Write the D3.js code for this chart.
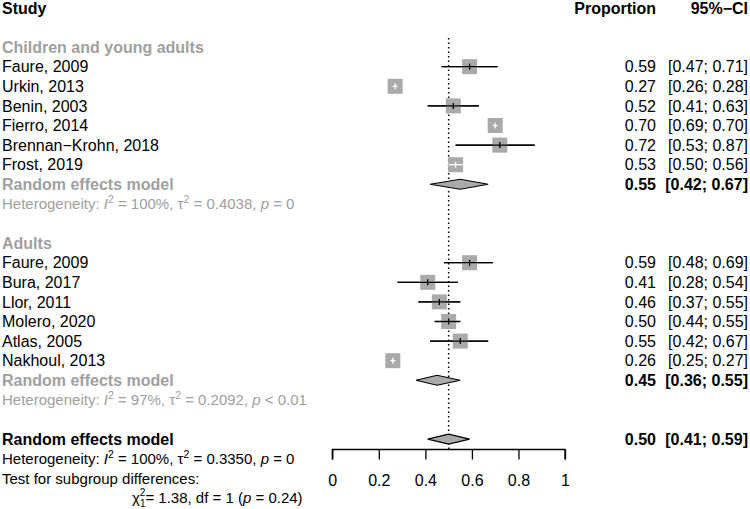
<!DOCTYPE html>
<html><head><meta charset="utf-8">
<script src="https://cdn.jsdelivr.net/npm/d3@7"></script>
<style>
body{margin:0;background:#fff;}
svg{display:block;font-family:"Liberation Sans",Arial,sans-serif;}
</style></head>
<body>
<svg id="chart" width="750" height="509"></svg>
<script>
// ---- data ----
const groupNames = ["Children and young adults", "Adults"];
const childStudies = ["Faure, 2009","Urkin, 2013","Benin, 2003","Fierro, 2014","Brennan\u2212Krohn, 2018","Frost, 2019"];
const childEst   = [0.59, 0.27, 0.52, 0.70, 0.72, 0.53];
const childLower = [0.47, 0.26, 0.41, 0.69, 0.53, 0.50];
const childUpper = [0.71, 0.28, 0.63, 0.70, 0.87, 0.56];
const childPooled = [0.55, 0.42, 0.67];
const childHet = ["100%", "0.4038", "= 0"];

const adultStudies = ["Faure, 2009","Bura, 2017","Llor, 2011","Molero, 2020","Atlas, 2005","Nakhoul, 2013"];
const adultEst   = [0.59, 0.41, 0.46, 0.50, 0.55, 0.26];
const adultLower = [0.48, 0.28, 0.37, 0.44, 0.42, 0.25];
const adultUpper = [0.69, 0.54, 0.55, 0.55, 0.67, 0.27];
const adultPooled = [0.45, 0.36, 0.55];
const adultHet = ["97%", "0.2092", "< 0.01"];

const overallPooled = [0.50, 0.41, 0.59];
const overallHet = ["100%", "0.3350", "= 0"];
const subgroupTest = ["1.38", "1", "0.24"];
const tickValues = [0, 0.2, 0.4, 0.6, 0.8, 1];
const nullValue = 0.5;

// ---- layout ----
const svg = d3.select("#chart");
const x = d3.scaleLinear().domain([0, 1]).range([332.3, 565]);
const rowY = i => 7.9 + i * 19.6;
const FS = 16;
const FS2 = 15;
const GRAY = "#a0a0a0";
const SQ = "#aaaaaa";
const fmt = d3.format(".2f");

function text(xp, yp, str, opts = {}) {
  return svg.append("text")
    .attr("x", xp).attr("y", yp)
    .attr("dy", "0.35em")
    .attr("font-size", opts.size || FS)
    .attr("font-weight", opts.bold ? "bold" : "normal")
    .attr("fill", opts.fill || "#000")
    .attr("text-anchor", opts.anchor || "start")
    .text(str);
}

// header
text(2, rowY(0), "Study", {bold: true});
text(656, rowY(0), "Proportion", {bold: true, anchor: "end"});
text(748, rowY(0), "95%\u2212CI", {bold: true, anchor: "end"});

// dotted null line
svg.append("line")
  .attr("x1", x(nullValue)).attr("x2", x(nullValue))
  .attr("y1", 38).attr("y2", 449.5)
  .attr("stroke", "#000").attr("stroke-width", 1.5)
  .attr("stroke-dasharray", "1.5,3");

function studyRow(i, name, est, lo, hi) {
  const y = rowY(i);
  text(2, y, name);
  text(656, y, fmt(est), {anchor: "end"});
  text(748, y, "[" + fmt(lo) + "; " + fmt(hi) + "]", {anchor: "end"});
  const half = 7.5;
  const inside = x(lo) >= x(est) - half - 0.5 && x(hi) <= x(est) + half + 0.5;
  if (!inside) {
    svg.append("line").attr("x1", x(lo)).attr("x2", x(hi))
      .attr("y1", y).attr("y2", y).attr("stroke", "#000").attr("stroke-width", 1.3);
  }
  svg.append("rect").attr("x", x(est) - half).attr("y", y - half)
    .attr("width", 2 * half).attr("height", 2 * half).attr("fill", SQ);
  const lc = inside ? "#fff" : "#000";
  const x1 = inside ? Math.min(x(lo), x(est) - 2.5) : x(lo);
  const x2 = inside ? Math.max(x(hi), x(est) + 2.5) : x(hi);
  svg.append("line").attr("x1", x1).attr("x2", x2)
    .attr("y1", y).attr("y2", y).attr("stroke", lc).attr("stroke-width", 1.3);
  svg.append("line").attr("x1", x(est)).attr("x2", x(est))
    .attr("y1", y - 3).attr("y2", y + 3).attr("stroke", lc).attr("stroke-width", 1.3);
}

function diamondRow(i, label, vals, color) {
  const y = rowY(i);
  const [e, lo, hi] = vals;
  text(2, y, label, {bold: true, fill: color});
  text(656, y, fmt(e), {anchor: "end", bold: true});
  text(748, y, "[" + fmt(lo) + "; " + fmt(hi) + "]", {anchor: "end", bold: true});
  const h = 5;
  svg.append("path")
    .attr("d", `M${x(lo)},${y}L${x(e)},${y - h}L${x(hi)},${y}L${x(e)},${y + h}Z`)
    .attr("fill", SQ).attr("stroke", "#000").attr("stroke-width", 1.1);
}

function hetRow(i, het, color) {
  const y = rowY(i);
  const t = svg.append("text").attr("x", 2).attr("y", y).attr("dy", "0.35em")
    .attr("font-size", FS2).attr("fill", color);
  t.append("tspan").text("Heterogeneity: ");
  t.append("tspan").attr("font-style", "italic").text("I");
  t.append("tspan").attr("font-size", 10.5).attr("dy", -6).text("2");
  t.append("tspan").attr("dy", 6).text(" = " + het[0] + ", \u03c4");
  t.append("tspan").attr("font-size", 10.5).attr("dy", -6).text("2");
  t.append("tspan").attr("dy", 6).text(" = " + het[1] + ", ");
  t.append("tspan").attr("font-style", "italic").text("p");
  t.append("tspan").text(" " + het[2]);
}

// subgroup 1
text(2, rowY(2), groupNames[0], {bold: true, fill: GRAY});
childStudies.forEach((s, k) => studyRow(3 + k, s, childEst[k], childLower[k], childUpper[k]));
diamondRow(9, "Random effects model", childPooled, GRAY);
hetRow(10, childHet, GRAY);

// subgroup 2
text(2, rowY(12), groupNames[1], {bold: true, fill: GRAY});
adultStudies.forEach((s, k) => studyRow(13 + k, s, adultEst[k], adultLower[k], adultUpper[k]));
diamondRow(19, "Random effects model", adultPooled, GRAY);
hetRow(20, adultHet, GRAY);

// overall
diamondRow(22, "Random effects model", overallPooled, "#000");
hetRow(23, overallHet, "#000");
text(2, rowY(24), "Test for subgroup differences:", {size: FS2});
{
  const y = rowY(25);
  const t = svg.append("text").attr("x", 132).attr("y", y).attr("dy", "0.35em")
    .attr("font-size", FS2).attr("fill", "#000");
  t.append("tspan").text("\u03c7");
  t.append("tspan").attr("font-size", 10).attr("dy", 4).text("1");
  t.append("tspan").attr("font-size", 10).attr("dx", -5.6).attr("dy", -11).text("2");
  t.append("tspan").attr("dy", 7).text("= " + subgroupTest[0] + ", df = " + subgroupTest[1] + " (");
  t.append("tspan").attr("font-style", "italic").text("p");
  t.append("tspan").text(" = " + subgroupTest[2] + ")");
}

// axis
const axis = d3.axisBottom(x).tickValues(tickValues).tickSize(10).tickPadding(15)
  .tickFormat(d => d3.format("")(d));
const ag = svg.append("g").attr("transform", "translate(0,449.5)").call(axis);
ag.select(".domain").attr("stroke-width", 1.3).attr("d", `M${x(0)},10V0H${x(1)}V10`);
ag.selectAll(".tick line").attr("stroke-width", 1.3);
ag.selectAll(".tick text").attr("font-size", FS).attr("font-family", "Liberation Sans, Arial, sans-serif").attr("fill", "#000");
</script>
</body></html>
